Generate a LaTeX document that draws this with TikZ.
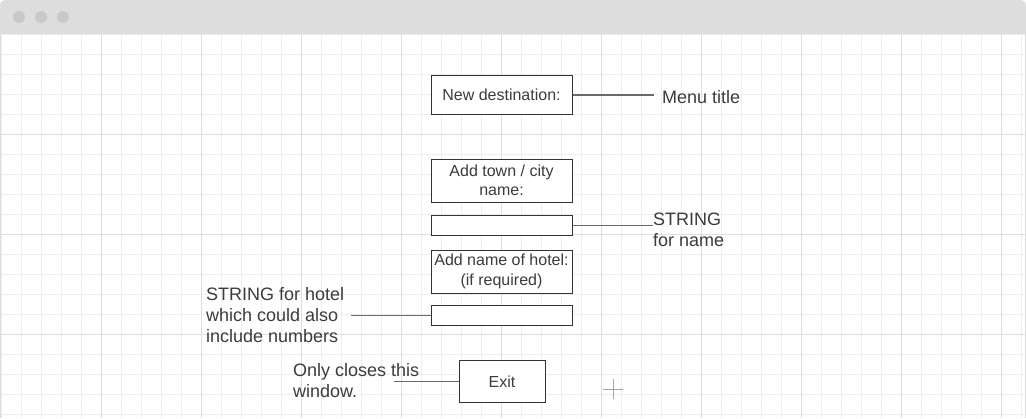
\documentclass[tikz,border=0pt]{standalone}
\usepackage{fontspec}
\setmainfont{Liberation Sans}
\definecolor{minorgrid}{HTML}{EEEEEE}
\definecolor{majorgrid}{HTML}{DEDEDE}
\definecolor{barcol}{HTML}{DDDDDD}
\definecolor{dotcol}{HTML}{C9C9C9}
\definecolor{txtcol}{HTML}{3C3C3C}
\definecolor{boxcol}{HTML}{333333}
\definecolor{linkcol}{HTML}{6A6A6A}
\tikzset{
  uibox/.style={draw=boxcol, line width=1pt, fill=white, inner sep=0pt, align=center,
    text=txtcol, font=\fontsize{16}{19.5}\selectfont, minimum width=141pt},
  note/.style={inner sep=0pt, align=left, anchor=west, text=txtcol,
    font=\fontsize{18}{21}\selectfont},
  link/.style={draw=linkcol, line width=1.6pt}
}
\begin{document}
\begin{tikzpicture}[x=1pt,y=-1pt]
\useasboundingbox (0,0) rectangle (1026,418);
\fill[white] (0,0) rectangle (1026,418);
% grid
\foreach \i in {0,...,51} {\draw[minorgrid, line width=1pt] ({1+20*\i},34) -- ({1+20*\i},418);}
\foreach \j in {0,...,19} {\draw[minorgrid, line width=1pt] (0,{34+20*\j}) -- (1026,{34+20*\j});}
\foreach \i in {1,...,10} {\draw[majorgrid, line width=1pt] ({1+100*\i},34) -- ({1+100*\i},418);}
\foreach \j in {1,2,3} {\draw[majorgrid, line width=1pt] (0,{34+100*\j}) -- (1026,{34+100*\j});}
% window frame and title bar
\fill[barcol, rounded corners=5pt] (0,34) -- (0,0) -- (1026,0) -- (1026,34) -- cycle;
\fill[barcol] (0,20) rectangle (1026,34);
\draw[majorgrid, line width=1pt] (0.5,34) -- (0.5,418) (1025.5,34) -- (1025.5,418);
\foreach \cx in {19,41,63} {\fill[dotcol] (\cx,17) circle (6);}
% boxes
\node[uibox, minimum height=39pt] (newdest) at (501.5,95) {New destination:};
\node[uibox, minimum height=43pt] (town) at (501.5,180.5) {Add town / city\\name:};
\node[uibox, minimum height=20pt] (townin) at (501.5,225.5) {};
\node[uibox, minimum height=43pt] (hotel) at (501.5,271.5) {Add name of hotel:\\(if required)};
\node[uibox, minimum height=20pt] (hotelin) at (501.5,315.5) {};
\node[uibox, minimum width=86pt, minimum height=42pt] (exit) at (502,381.5) {Exit};
% notes
\node[note] (menu) at (662,97) {Menu title};
\node[note] (strname) at (653,230) {STRING\\for name};
\node[note] (strhotel) at (206,315) {STRING for hotel\\which could also\\include numbers};
\node[note] (only) at (293,380.5) {Only closes this\\window.};
% connector free ends
\coordinate (c1) at (654,95);
\coordinate (c2) at (653,225.5);
\coordinate (c3) at (351,315.5);
\coordinate (c4) at (394,381.5);
\draw[link] (newdest.east) -- (c1);
\draw[link] (townin.east) -- (c2);
\draw[link] (c3) -- (hotelin.west);
\draw[link] (c4) -- (exit.west);
% cursor crosshair
\draw[gray!70, line width=1pt] (603,389) -- (623,389) (613,379) -- (613,399);
\end{tikzpicture}
\end{document}
